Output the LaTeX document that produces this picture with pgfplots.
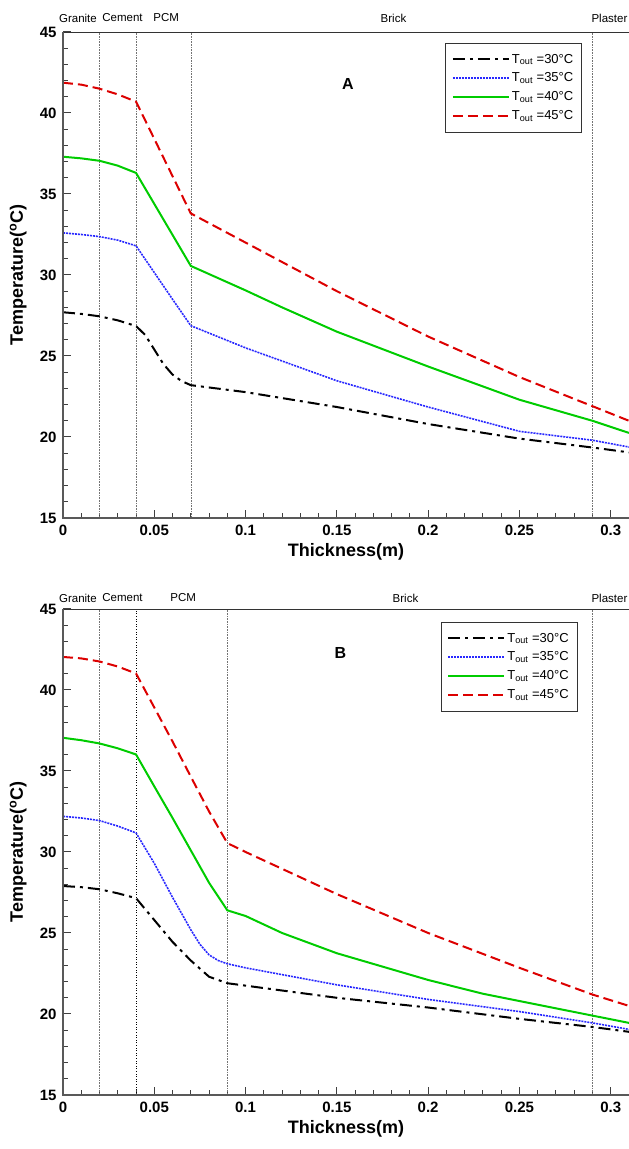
\documentclass[border=0pt]{standalone}
\usepackage{pgfplots}
\pgfplotsset{compat=1.18}
\usepackage{fontspec}
\setmainfont{Liberation Sans}
\definecolor{cRed}{RGB}{220,0,0}
\definecolor{cGreen}{RGB}{0,204,0}
\definecolor{cBlue}{RGB}{40,40,255}

\pgfplotsset{
  legend image code/.code={\draw[#1] (0pt,0pt) -- (56pt,0pt);},
  myaxis/.style={
    scale only axis, width=566pt, height=486pt,
    xmin=0, xmax=0.31, ymin=15, ymax=45,
    xtick={0,0.05,0.1,0.15,0.2,0.25,0.3},
    xticklabels={0,0.05,0.1,0.15,0.2,0.25,0.3},
    ytick={15,20,25,30,35,40,45},
    minor x tick num=4, minor y tick num=4,
    tick align=inside, tick pos=left,
    major tick length=8pt, minor tick length=5pt,
    every tick/.style={black!75, line width=1pt},
    axis line style={line width=0.8pt, black!80},
    ticklabel style={font=\fontsize{15}{15}\selectfont\bfseries},
    /pgf/number format/assume math mode=true,
    xticklabel style={yshift=-3pt}, yticklabel style={xshift=-3pt},
    xlabel={Thickness(m)}, ylabel={Temperature(\textsuperscript{o}C)},
    label style={font=\fontsize{18}{18}\selectfont\bfseries},
    xlabel style={at={(axis description cs:0.5,-0.07)}, anchor=center},
    ylabel style={at={(axis description cs:-0.079,0.5)}, anchor=center},
    clip=false,
    legend cell align=left,
    legend style={anchor=north west, draw=black!80, line width=0.8pt, fill=white,
      font=\fontsize{13}{13}\selectfont, inner xsep=6.5pt, inner ysep=9pt,
      row sep=4.2pt, nodes={inner sep=2pt}},
  },
  s30/.style={black, line width=2pt, dash pattern=on 12pt off 5pt on 3pt off 5pt},
  s35/.style={cBlue, line width=1.6pt, dash pattern=on 2pt off 1pt},
  s40/.style={cGreen, line width=2pt},
  s45/.style={cRed, line width=2pt, dash pattern=on 10pt off 5pt},
}

\begin{document}
\begin{tikzpicture}[x=1pt,y=1pt]
% ---------------- A ----------------
\begin{axis}[myaxis, at={(63pt,631pt)}, anchor=south west,
  legend style={at={(0.675,0.978)}}]
\draw[black!55, densely dotted, line width=0.6pt] (axis cs:0.02,15) -- (axis cs:0.02,45);
\draw[black!55, densely dotted, line width=0.6pt] (axis cs:0.04,15) -- (axis cs:0.04,45);
\draw[black!55, densely dotted, line width=0.6pt] (axis cs:0.07,15) -- (axis cs:0.07,45);
\draw[black!55, densely dotted, line width=0.6pt] (axis cs:0.29,15) -- (axis cs:0.29,45);
\addplot[s30] coordinates {(0,27.7)(0.01,27.6)(0.02,27.45)(0.03,27.2)(0.04,26.85)(0.045,26.3)(0.05,25.4)(0.055,24.5)(0.06,23.85)(0.065,23.45)(0.07,23.2)(0.1,22.77)(0.15,21.85)(0.2,20.8)(0.25,19.9)(0.29,19.35)(0.31,19.05)};
\addlegendentry{T\textsubscript{out} =30°C}
\addplot[s35] coordinates {(0,32.6)(0.01,32.5)(0.02,32.37)(0.03,32.15)(0.04,31.8)(0.05,30.15)(0.06,28.5)(0.07,26.87)(0.1,25.5)(0.15,23.47)(0.2,21.85)(0.25,20.35)(0.29,19.8)(0.31,19.38)};
\addlegendentry{T\textsubscript{out} =35°C}
\addplot[s40] coordinates {(0,37.3)(0.01,37.2)(0.02,37.05)(0.03,36.75)(0.04,36.3)(0.07,30.56)(0.1,29.05)(0.12,28.0)(0.15,26.5)(0.2,24.35)(0.25,22.3)(0.29,21.0)(0.31,20.25)};
\addlegendentry{T\textsubscript{out} =40°C}
\addplot[s45] coordinates {(0,41.87)(0.01,41.75)(0.02,41.5)(0.03,41.15)(0.04,40.7)(0.07,33.8)(0.1,32.0)(0.15,29.0)(0.2,26.2)(0.25,23.7)(0.29,21.9)(0.31,21.0)};
\addlegendentry{T\textsubscript{out} =45°C}
\draw[line width=1.6pt, black!65] (rel axis cs:0,1) -- (rel axis cs:0,0) -- (rel axis cs:1,0);
\node[font=\fontsize{16}{16}\selectfont\bfseries] at (axis cs:0.156,41.8) {A};
\begin{scope}[font=\fontsize{11.5}{11.5}\selectfont]
\node at (axis cs:0.0082,45) [yshift=14pt] {Granite};
\node at (axis cs:0.0326,45) [yshift=14pt] {Cement};
\node at (axis cs:0.0565,45) [yshift=14pt] {PCM};
\node at (axis cs:0.181,45) [yshift=14pt] {Brick};
\node at (axis cs:0.2993,45) [yshift=14pt] {Plaster};
\end{scope}
\end{axis}
% ---------------- B ----------------
\begin{axis}[myaxis, at={(63pt,54pt)}, anchor=south west,
  legend style={at={(0.667,0.974)}}]
\draw[black!55, densely dotted, line width=0.6pt] (axis cs:0.02,15) -- (axis cs:0.02,45);
\draw[black, dotted, line width=0.6pt] (axis cs:0.04,15) -- (axis cs:0.04,45);
\draw[black!55, densely dotted, line width=0.6pt] (axis cs:0.09,15) -- (axis cs:0.09,45);
\draw[black!55, densely dotted, line width=0.6pt] (axis cs:0.29,15) -- (axis cs:0.29,45);
\addplot[s30] coordinates {(0,27.9)(0.01,27.83)(0.02,27.7)(0.03,27.45)(0.04,27.15)(0.05,25.8)(0.06,24.45)(0.07,23.3)(0.08,22.3)(0.09,21.9)(0.1,21.75)(0.15,21.0)(0.2,20.4)(0.25,19.7)(0.29,19.2)(0.31,18.9)};
\addlegendentry{T\textsubscript{out} =30°C}
\addplot[s35] coordinates {(0,32.2)(0.01,32.1)(0.02,31.94)(0.03,31.6)(0.04,31.18)(0.05,29.3)(0.06,27.2)(0.07,25.2)(0.075,24.3)(0.08,23.65)(0.085,23.3)(0.09,23.1)(0.1,22.85)(0.15,21.8)(0.2,20.9)(0.25,20.15)(0.29,19.45)(0.31,19.05)};
\addlegendentry{T\textsubscript{out} =35°C}
\addplot[s40] coordinates {(0,37.05)(0.01,36.9)(0.02,36.7)(0.03,36.4)(0.04,36.02)(0.05,34.05)(0.06,32.1)(0.07,30.1)(0.08,28.1)(0.09,26.4)(0.1,26.05)(0.12,25.0)(0.15,23.75)(0.2,22.1)(0.23,21.25)(0.25,20.8)(0.29,19.9)(0.31,19.45)};
\addlegendentry{T\textsubscript{out} =40°C}
\addplot[s45] coordinates {(0,42.04)(0.01,41.95)(0.02,41.76)(0.03,41.45)(0.04,41.02)(0.05,38.92)(0.06,36.82)(0.07,34.65)(0.08,32.5)(0.09,30.55)(0.1,30.0)(0.15,27.4)(0.2,25.0)(0.25,22.85)(0.29,21.2)(0.31,20.5)};
\addlegendentry{T\textsubscript{out} =45°C}
\draw[line width=1.6pt, black!65] (rel axis cs:0,1) -- (rel axis cs:0,0) -- (rel axis cs:1,0);
\node[font=\fontsize{16}{16}\selectfont\bfseries] at (axis cs:0.152,42.3) {B};
\begin{scope}[font=\fontsize{11.5}{11.5}\selectfont]
\node at (axis cs:0.0082,45) [yshift=11pt] {Granite};
\node at (axis cs:0.0326,45) [yshift=11pt] {Cement};
\node at (axis cs:0.0658,45) [yshift=11pt] {PCM};
\node at (axis cs:0.1876,45) [yshift=11pt] {Brick};
\node at (axis cs:0.2993,45) [yshift=11pt] {Plaster};
\end{scope}
\end{axis}
\pgfresetboundingbox
\path[use as bounding box] (0,0) rectangle (629pt,1149pt);
\end{tikzpicture}
\end{document}
